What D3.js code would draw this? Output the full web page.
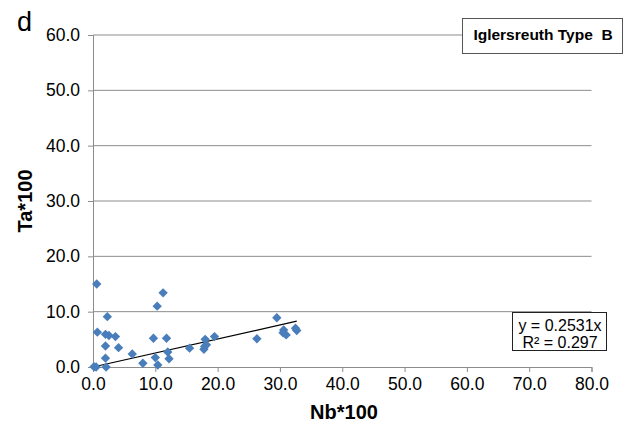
<!DOCTYPE html>
<html>
<head>
<meta charset="utf-8">
<script src="https://cdn.jsdelivr.net/npm/d3@7/dist/d3.min.js"></script>
<style>
  body { margin: 0; background: #fff; }
  svg { font-family: "Liberation Sans", Arial, sans-serif; }
</style>
</head>
<body>
<script>
  const width = 626
  const height = 429

  // Nb*100 vs Ta*100
  const nbValues = [0.6, 11.25, 10.3, 2.3, 0.7, 2.0, 2.56, 3.6, 9.7, 11.8, 2.0, 4.1, 6.3, 12.0, 12.2, 10.0, 2.0, 8.0, 10.4, 0.16, 0.5, 2.1, 15.5, 18.0, 19.5, 17.8, 18.2, 17.9, 26.3, 29.5, 30.6, 31.0, 32.5, 32.7, 30.5]
  const taValues = [15.0, 13.4, 11.0, 9.1, 6.3, 5.9, 5.7, 5.5, 5.2, 5.2, 3.8, 3.5, 2.35, 2.7, 1.5, 1.7, 1.6, 0.67, 0.36, 0.05, 0, 0, 3.4, 5.0, 5.5, 3.2, 4.0, 3.7, 5.1, 8.9, 6.7, 5.8, 7.0, 6.6, 6.2]
  const xTicks = [0, 10, 20, 30, 40, 50, 60, 70, 80]
  const yTicks = [0, 10, 20, 30, 40, 50, 60]
  const slope = 0.2531
  const rSquared = 0.297
  const trendRange = [0, 32.7]
  const panelLabel = "d"
  const legendLabel = "Iglersreuth Type  B"

  const margin = { top: 35, right: 34.5, bottom: 62, left: 93 }
  const innerW = width - margin.left - margin.right
  const innerH = height - margin.top - margin.bottom

  const x = d3.scaleLinear().domain([0, 80]).range([0, innerW])
  const y = d3.scaleLinear().domain([0, 60]).range([innerH, 0])
  const fmt = d3.format(".1f")

  const svg = d3.select("body").append("svg")
    .attr("width", width)
    .attr("height", height)

  const g = svg.append("g")
    .attr("transform", `translate(${margin.left},${margin.top})`)

  // horizontal gridlines
  g.append("g")
    .selectAll("line")
    .data(yTicks.filter(d => d > 0))
    .enter()
    .append("line")
    .attr("x1", 0)
    .attr("x2", innerW)
    .attr("y1", d => y(d))
    .attr("y2", d => y(d))
    .attr("stroke", "#8c8c8c")
    .attr("stroke-width", 1)

  const yAxis = g.append("g")
    .call(d3.axisLeft(y).tickValues(yTicks).tickFormat(fmt).tickSize(5).tickPadding(8))
  const xAxis = g.append("g")
    .attr("transform", `translate(0,${innerH})`)
    .call(d3.axisBottom(x).tickValues(xTicks).tickFormat(fmt).tickSize(5).tickPadding(6))

  for (const ax of [xAxis, yAxis]) {
    ax.select(".domain").attr("stroke", "#8c8c8c")
    ax.selectAll(".tick line").attr("stroke", "#8c8c8c")
    ax.selectAll(".tick text")
      .attr("fill", "#000")
      .style("font-size", "17.5px")
      .style("font-family", "'Liberation Sans', Arial, sans-serif")
  }

  // trend line
  g.append("line")
    .attr("x1", x(trendRange[0]))
    .attr("y1", y(trendRange[0] * slope))
    .attr("x2", x(trendRange[1]))
    .attr("y2", y(trendRange[1] * slope))
    .attr("stroke", "#000")
    .attr("stroke-width", 1.2)

  // diamonds
  const diamond = d3.symbol().type(d3.symbolDiamond2).size(56)
  g.append("g")
    .selectAll("path")
    .data(nbValues.map((d, i) => [d, taValues[i]]))
    .enter()
    .append("path")
    .attr("d", diamond)
    .attr("transform", d => `translate(${x(d[0])},${y(d[1])})`)
    .attr("fill", "#4a7ebb")

  // axis titles
  svg.append("text")
    .attr("x", 344)
    .attr("y", 419)
    .attr("text-anchor", "middle")
    .style("font-size", "20px")
    .style("font-weight", "bold")
    .text("Nb*100")

  svg.append("text")
    .attr("transform", "translate(32,201) rotate(-90)")
    .attr("text-anchor", "middle")
    .style("font-size", "20px")
    .style("font-weight", "bold")
    .text("Ta*100")

  svg.append("text")
    .attr("x", 17)
    .attr("y", 31)
    .style("font-size", "27px")
    .text(panelLabel)

  // legend box
  svg.append("rect")
    .attr("x", 462.5)
    .attr("y", 18.5)
    .attr("width", 160)
    .attr("height", 35)
    .attr("fill", "#fff")
    .attr("stroke", "#555")
    .attr("stroke-width", 1)
  svg.append("text")
    .attr("x", 543)
    .attr("y", 40)
    .attr("text-anchor", "middle")
    .style("font-size", "15.5px")
    .style("font-weight", "bold")
    .style("white-space", "pre")
    .attr("xml:space", "preserve")
    .text(legendLabel)

  // equation box
  svg.append("rect")
    .attr("x", 512.5)
    .attr("y", 312.5)
    .attr("width", 94)
    .attr("height", 38)
    .attr("fill", "#fff")
    .attr("stroke", "#222")
    .attr("stroke-width", 1)
  const eq = svg.append("text")
    .attr("text-anchor", "middle")
    .style("font-size", "16px")
  eq.append("tspan").attr("x", 560).attr("y", 331).text(`y = ${slope}x`)
  eq.append("tspan").attr("x", 560).attr("y", 348).text(`R² = ${rSquared}`)
</script>
</body>
</html>
